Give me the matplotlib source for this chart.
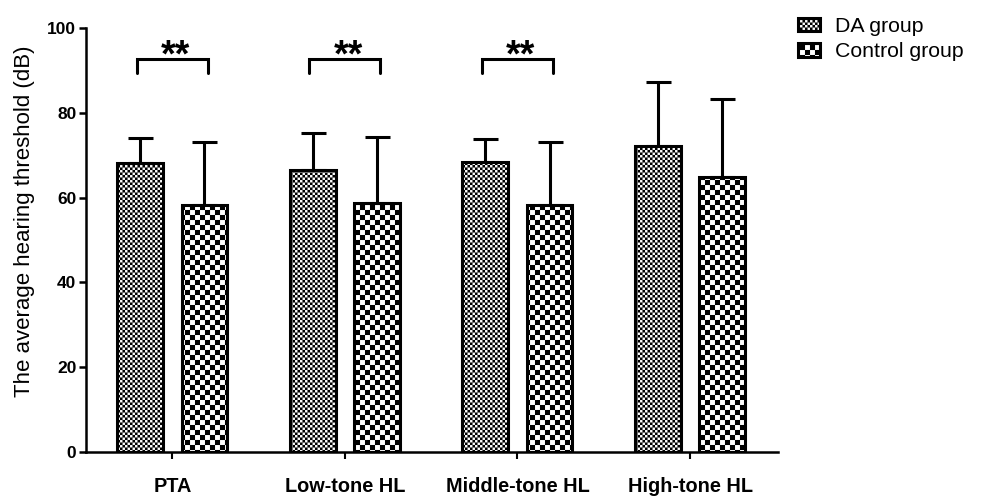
import warnings
import numpy as np
import matplotlib
matplotlib.use("Agg")
import matplotlib.pyplot as plt
import matplotlib.hatch as mhatch
from matplotlib.path import Path


warnings.filterwarnings("ignore")


# ==========================
# Data
# ==========================

categories = ["PTA", "Low-tone HL", "Middle-tone HL", "High-tone HL"]

da_mean = [68.2, 66.5, 68.4, 72.3]
da_sd = [5.9, 8.7, 5.4, 15.0]

ctrl_mean = [58.3, 58.8, 58.3, 64.8]
ctrl_sd = [14.8, 15.4, 14.8, 18.4]

sig_groups = [0, 1, 2]
sig_level = 92.8
sig_label = "**"


# ==========================
# Checkerboard hatch ("c" = 10 cells per hatch tile)
# ==========================

class CheckerHatch(mhatch.HatchPatternBase):
    def __init__(self, hatch, density):
        self.n = hatch.count("c") * 10
        self.num_vertices = (self.n * self.n // 2) * 5

    def set_vertices_and_codes(self, vertices, codes):
        n = self.n
        s = 1.0 / n
        square = np.array([[0, 0], [s, 0], [s, s], [0, s], [0, 0]])
        sq_codes = [Path.MOVETO, Path.LINETO, Path.LINETO,
                    Path.LINETO, Path.CLOSEPOLY]
        k = 0
        for i in range(n):
            for j in range(n):
                if (i + j) % 2 == 0:
                    vertices[k:k + 5] = square + [i * s, j * s]
                    codes[k:k + 5] = sq_codes
                    k += 5


mhatch._hatch_types.append(CheckerHatch)

plt.rcParams["font.family"] = ["Liberation Sans", "DejaVu Sans"]
plt.rcParams["hatch.linewidth"] = 0.05
plt.rcParams["hatch.color"] = "black"


# ==========================
# Figure
# ==========================

fig = plt.figure(figsize=(9.81, 4.97), dpi=100)
ax = fig.add_axes([0.0877, 0.0905, 0.7054, 0.853])

x = np.arange(len(categories))
width = 0.265
offset = 0.186

ax.errorbar(
    x - offset, da_mean,
    yerr=[np.zeros(len(da_sd)), da_sd],
    fmt="none", ecolor="black", elinewidth=2.2,
    capsize=9, capthick=2.2, zorder=1
)
ax.errorbar(
    x + offset, ctrl_mean,
    yerr=[np.zeros(len(ctrl_sd)), ctrl_sd],
    fmt="none", ecolor="black", elinewidth=2.2,
    capsize=9, capthick=2.2, zorder=1
)

ax.bar(
    x - offset, da_mean, width,
    color="white", edgecolor="black", linewidth=2.2,
    hatch="cccc", label="DA group", zorder=2
)
ax.bar(
    x + offset, ctrl_mean, width,
    color="white", edgecolor="black", linewidth=2.2,
    hatch="cc", label="Control group", zorder=2
)


# Significance brackets
for i in sig_groups:
    x0 = x[i] - offset - 0.02
    x1 = x[i] + offset + 0.02
    ax.plot(
        [x0, x0, x1, x1],
        [sig_level - 3.5, sig_level, sig_level, sig_level - 3.5],
        color="black", linewidth=2.2,
        solid_capstyle="round", solid_joinstyle="miter",
        clip_on=False
    )
    ax.text(
        x[i] + 0.02, sig_level - 1.9, sig_label,
        ha="center", va="baseline",
        fontsize=27, fontweight="bold"
    )


# ==========================
# Axes styling
# ==========================

ax.set_xlim(-0.5, 3.51)
ax.set_ylim(0, 100)
ax.set_yticks([0, 20, 40, 60, 80, 100])
ax.set_xticks(x)
ax.set_xticklabels(categories, fontsize=14.3, fontweight="bold")

for lab in ax.get_yticklabels():
    lab.set_fontsize(12.5)
    lab.set_fontweight("bold")

ax.spines["top"].set_visible(False)
ax.spines["right"].set_visible(False)
ax.spines["left"].set_linewidth(1.8)
ax.spines["bottom"].set_linewidth(1.8)

ax.tick_params(axis="y", length=5, width=1.8, pad=2)
ax.tick_params(axis="x", length=5, width=1.5, pad=13)

ax.set_ylabel("The average hearing threshold (dB)", fontsize=16)
ax.yaxis.set_label_coords(-0.074, 0.545)

ax.legend(
    loc="upper left",
    bbox_to_anchor=(798 / 981, 1 - 17 / 497),
    bbox_transform=fig.transFigure,
    frameon=False,
    fontsize=15.3,
    handlelength=1.03,
    handleheight=0.6,
    handletextpad=0.7,
    labelspacing=0.3,
    borderpad=0,
    borderaxespad=0
)

plt.savefig("out.png", dpi=100)
plt.close()
